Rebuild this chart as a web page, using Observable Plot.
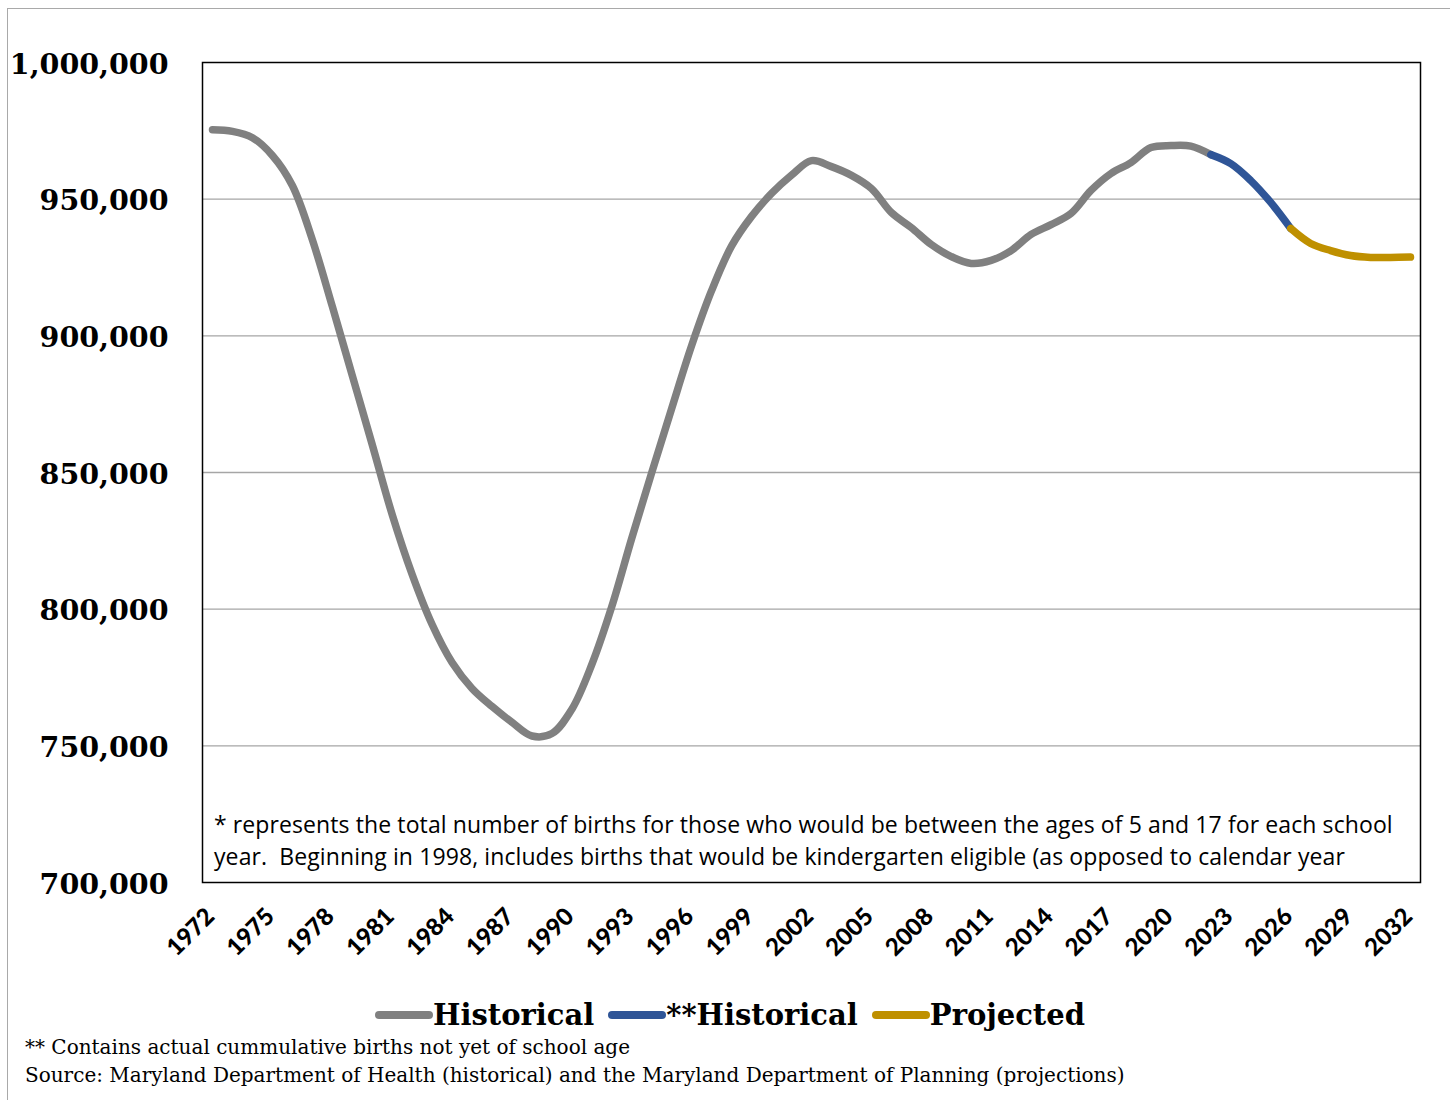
<!DOCTYPE html>
<html>
<head>
<meta charset="utf-8">
<script src="https://cdn.jsdelivr.net/npm/d3@7"></script>
<script src="https://cdn.jsdelivr.net/npm/@observablehq/plot@0.6"></script>
<style>
  html, body { margin: 0; padding: 0; background: #fff; overflow: hidden; }
  body { width: 1450px; height: 1100px; position: relative; }
  #frame { position: absolute; left: 7px; top: 8px; width: 1500px; height: 1200px; border: 1.5px solid #a9a9a9; box-sizing: border-box; }
  #chart { position: absolute; left: 0; top: 0; }
  #note { position: absolute; left: 214px; top: 808px; font-family: "Open Sans", sans-serif; font-size: 23px; letter-spacing: 0.1px; line-height: 32px; color: #000; white-space: pre; }
  #legend { position: absolute; left: 0; top: 998px; width: 1460px; display: flex; justify-content: center; align-items: center; font-family: "DejaVu Serif", serif; font-weight: bold; font-size: 29px; color: #000; }
  .item { display: flex; align-items: center; margin: 0 7px; }
  .sw { width: 58px; height: 8px; border-radius: 4px; }
  #foot { position: absolute; left: 25px; top: 1033px; font-family: "DejaVu Serif", serif; font-size: 20px; line-height: 28px; color: #000; white-space: nowrap; }
</style>
</head>
<body>
<div id="frame"></div>
<div id="chart"></div>
<div id="note"></div>
<div id="legend"></div>
<div id="foot"></div>
<script>
// ---- data ----
const historicalYears = [1972,1973,1974,1975,1976,1977,1978,1979,1980,1981,1982,1983,1984,1985,1986,1987,1988,1989,1990,1991,1992,1993,1994,1995,1996,1997,1998,1999,2000,2001,2002,2003,2004,2005,2006,2007,2008,2009,2010,2011,2012,2013,2014,2015,2016,2017,2018,2019,2020,2021,2022];
const historicalValues = [975400,974800,972500,966000,955000,935200,910800,885500,860200,834600,812700,794400,780500,771000,764400,758600,753600,754500,763400,779800,801000,826000,850000,873500,896500,916600,932900,943700,952100,958800,964100,961900,958700,953900,945100,939600,933400,929000,926500,927600,931200,937100,940700,944800,953200,959400,963400,968900,969600,969400,966300];
const recentYears = [2022,2023,2024,2025,2026];
const recentValues = [966300,963000,956800,948800,939300];
const projectedYears = [2026,2027,2028,2029,2030,2031,2032];
const projectedValues = [939300,933800,931200,929400,928700,928700,928800];

const xTickLabels = [1972,1975,1978,1981,1984,1987,1990,1993,1996,1999,2002,2005,2008,2011,2014,2017,2020,2023,2026,2029,2032];
const yTickValues = [700000,750000,800000,850000,900000,950000,1000000];
const gridValues = [750000,800000,850000,900000,950000];

const seriesNames = ["Historical", "**Historical", "Projected"];
const seriesColors = ["#808080", "#2f5597", "#bf9000"];

const noteLines = [
  "* represents the total number of births for those who would be between the ages of 5 and 17 for each school",
  "year.  Beginning in 1998, includes births that would be kindergarten eligible (as opposed to calendar year"
];
const footLines = [
  "** Contains actual cummulative births not yet of school age",
  "Source: Maryland Department of Health (historical) and the Maryland Department of Planning (projections)"
];

// ---- build ----
const toRows = (ys, vs) => ys.map((y, i) => ({year: y, value: vs[i]}));
const hist = toRows(historicalYears, historicalValues);
const recent = toRows(recentYears, recentValues);
const proj = toRows(projectedYears, projectedValues);

const lineOpts = (color) => ({x: "year", y: "value", stroke: color, strokeWidth: 7.5, strokeLinecap: "round", strokeLinejoin: "round", curve: "catmull-rom"});

const chart = Plot.plot({
  width: 1450,
  height: 980,
  marginLeft: 202,
  marginRight: 30,
  marginTop: 62,
  marginBottom: 98,
  style: {background: "transparent", color: "#000", overflow: "visible"},
  x: {domain: [1971.5, 2032.5]},
  y: {domain: [700000, 1000000]},
  marks: [
    Plot.gridY(gridValues, {stroke: "#a6a6a6", strokeOpacity: 1, strokeWidth: 1.3}),
    Plot.axisY(yTickValues, {tickSize: 0, tickPadding: 34, tickFormat: d3.format(","), fontFamily: "DejaVu Serif", fontWeight: "bold", fontSize: 28.5, dy: 2, label: null}),
    Plot.axisX(xTickLabels, {tickSize: 0, tickRotate: -45, tickPadding: 30, tickFormat: d => String(d), fontFamily: "Lato", fontWeight: "900", fontSize: 24, dx: -2, label: null}),
    Plot.line(hist, lineOpts(seriesColors[0])),
    Plot.line(recent, lineOpts(seriesColors[1])),
    Plot.line(proj, lineOpts(seriesColors[2])),
    Plot.frame({stroke: "#000", strokeWidth: 1.5})
  ]
});
document.getElementById("chart").appendChild(chart);

document.getElementById("note").innerHTML = noteLines.map(t => `<div>${t}</div>`).join("");
document.getElementById("foot").innerHTML = footLines.map(t => `<div>${t}</div>`).join("");
document.getElementById("legend").innerHTML = seriesNames.map((n, i) =>
  `<div class="item"><div class="sw" style="background:${seriesColors[i]}"></div><span>${n}</span></div>`).join("");
</script>
</body>
</html>
